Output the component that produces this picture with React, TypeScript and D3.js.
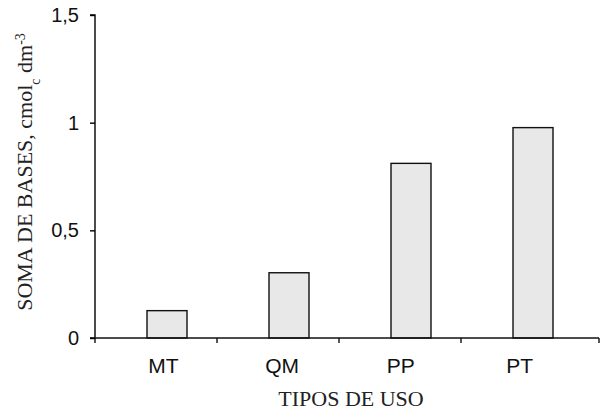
import React, { useEffect, useRef } from "react";
import * as d3 from "d3";

const categories = ["MT", "QM", "PP", "PT"];
const somaBases = [0.127, 0.303, 0.811, 0.977];
const yTicks = [0, 0.5, 1, 1.5];
const yTickLabels = ["0", "0,5", "1", "1,5"];

export default function App() {
    const ref = useRef<SVGSVGElement>(null);

    useEffect(() => {
        document.body.style.margin = "0";
        const svg = d3.select(ref.current);
        svg.selectAll("*").remove();

        const left = 95, right = 599, top = 15, bottom = 338;

        // categories sit a bit left of the axis end, like the original
        const x = d3.scaleBand().domain(categories).range([left, 583]);
        // labels in the original are spaced a little tighter than the bars
        const xLab = d3.scaleBand().domain(categories).range([104, 579]);
        const y = d3.scaleLinear().domain([0, 1.5]).range([bottom, top]);
        const barW = 40;

        const g = svg.append("g");

        // bars
        g.selectAll("rect")
            .data(somaBases)
            .enter().append("rect")
            .attr("x", (d, i) => x(categories[i])! + x.bandwidth() / 2 - barW / 2 + 11)
            .attr("y", d => y(d))
            .attr("width", barW)
            .attr("height", d => bottom - y(d))
            .attr("fill", "#e8e8e8")
            .attr("stroke", "#111")
            .attr("stroke-width", 1.4);

        // y axis
        const yAxis = d3.axisLeft(y)
            .tickValues(yTicks)
            .tickSize(5)
            .tickPadding(11)
            .tickFormat((d, i) => yTickLabels[i]);
        const ya = g.append("g")
            .attr("transform", `translate(${left},0)`)
            .call(yAxis);
        ya.select(".domain").attr("d", `M-5,${top}H0V${bottom}H-5`).attr("stroke-width", 1.4);
        ya.selectAll(".tick line").attr("stroke-width", 1.4);
        ya.selectAll("text")
            .attr("font-family", "Liberation Sans, Arial, sans-serif")
            .attr("font-size", 20)
            .attr("fill", "#111");

        // x axis
        const bounds = categories.map(c => x(c)!).concat([right]);
        g.append("line")
            .attr("x1", left).attr("x2", right)
            .attr("y1", bottom).attr("y2", bottom)
            .attr("stroke", "#111").attr("stroke-width", 1.4);
        g.selectAll(".xtick")
            .data(bounds)
            .enter().append("line")
            .attr("x1", d => d).attr("x2", d => d)
            .attr("y1", bottom).attr("y2", bottom + 5)
            .attr("stroke", "#111").attr("stroke-width", 1.4);
        g.selectAll(".xlab")
            .data(categories)
            .enter().append("text")
            .attr("x", d => xLab(d)! + xLab.bandwidth() / 2)
            .attr("y", 373)
            .attr("text-anchor", "middle")
            .attr("font-family", "Liberation Sans, Arial, sans-serif")
            .attr("font-size", 21)
            .attr("fill", "#111")
            .text(d => d);

        // titles
        svg.append("text")
            .attr("x", 351)
            .attr("y", 406)
            .attr("text-anchor", "middle")
            .attr("font-family", "Liberation Serif, Times New Roman, serif")
            .attr("font-size", 22)
            .attr("fill", "#222")
            .text("TIPOS DE USO");

        const yt = svg.append("text")
            .attr("transform", "translate(32,172) rotate(-90)")
            .attr("text-anchor", "middle")
            .attr("font-family", "Liberation Serif, Times New Roman, serif")
            .attr("font-size", 22)
            .attr("fill", "#222");
        yt.append("tspan").text("SOMA DE BASES, cmol");
        yt.append("tspan").attr("baseline-shift", "sub").attr("font-size", 14).text("c");
        yt.append("tspan").text(" dm");
        yt.append("tspan").attr("baseline-shift", "super").attr("font-size", 14).text("-3");
    }, []);

    return <svg ref={ref} width={616} height={410} style={{ display: "block", background: "#fff" }} />;
}
